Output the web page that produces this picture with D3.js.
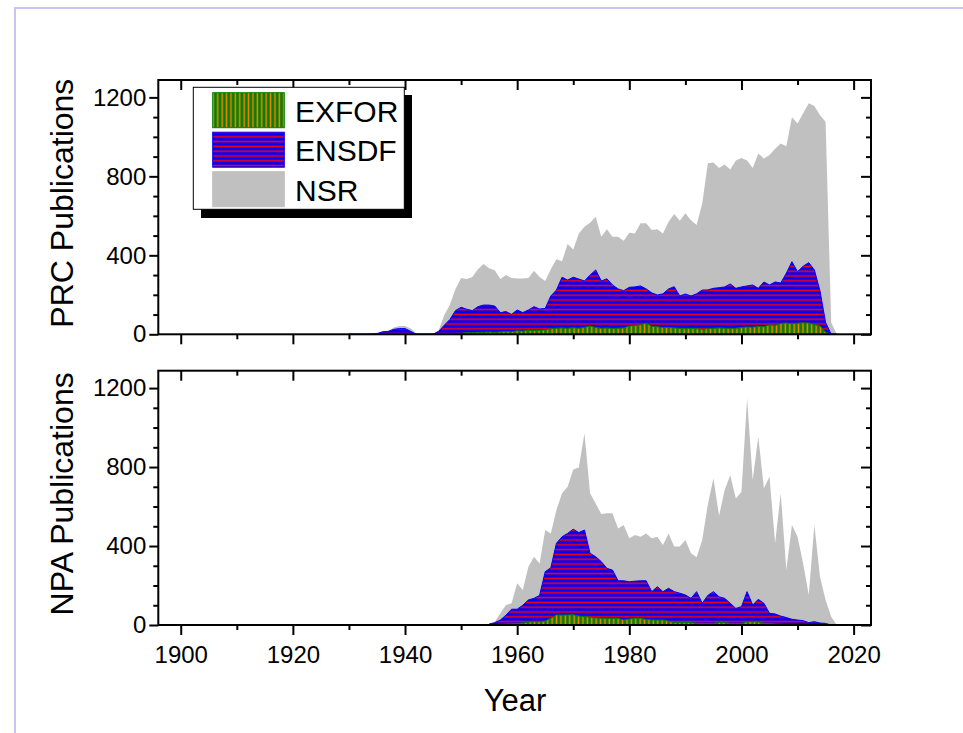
<!DOCTYPE html>
<html>
<head>
<meta charset="utf-8">
<script src="https://cdn.jsdelivr.net/npm/d3@7"></script>
<style>
  html, body { margin: 0; padding: 0; background: #fff; }
  svg { display: block; font-family: "Liberation Sans", Arial, sans-serif; }
</style>
</head>
<body>
<svg id="chart" width="963" height="733"></svg>
<script>
// yearly publication counts
const prcStart = 1930;
const prcNSR = [
  0, 0, 0, 0, 3, 8, 13, 15, 35, 42,
  42, 30, 5, 0, 0, 3, 20, 98, 150, 230,
  285, 280, 290, 330, 356, 335, 325, 280, 300, 285,
  282, 282, 285, 322, 290, 270, 330, 380, 370, 457,
  430, 511, 545, 565, 596, 494, 532, 494, 494, 474,
  514, 510, 562, 562, 528, 532, 510, 570, 609, 575,
  613, 578, 553, 663, 866, 870, 842, 860, 835, 880,
  893, 880, 842, 916, 891, 908, 940, 967, 953, 1099,
  1068, 1119, 1170, 1156, 1110, 1077, 60, 0
];
const prcENSDF = [
  0, 0, 0, 0, 0, 3, 13, 15, 25, 29,
  29, 15, 0, 0, 0, 0, 15, 46, 75, 120,
  137, 127, 120, 140, 148, 148, 143, 110, 115, 101,
  123, 110, 123, 140, 128, 131, 194, 224, 289, 275,
  289, 280, 270, 300, 326, 270, 281, 250, 230, 221,
  238, 240, 245, 230, 210, 199, 205, 230, 241, 194,
  204, 194, 205, 224, 225, 233, 236, 240, 255, 233,
  240, 245, 250, 233, 265, 250, 265, 260, 309, 368,
  317, 345, 363, 326, 220, 60, 0, 0
];
const prcEXFOR = [
  0, 0, 0, 0, 0, 0, 0, 0, 0, 0,
  0, 0, 0, 0, 0, 0, 0, 2, 3, 5,
  5, 8, 8, 10, 10, 12, 10, 12, 14, 12,
  18, 16, 20, 18, 20, 22, 28, 30, 32, 30,
  33, 30, 35, 42, 35, 30, 32, 28, 30, 32,
  42, 44, 48, 56, 40, 38, 35, 35, 32, 30,
  28, 30, 28, 25, 28, 30, 32, 30, 28, 30,
  34, 37, 36, 40, 38, 48, 45, 55, 57, 54,
  56, 58, 57, 50, 42, 10, 0, 0
];

const npaStart = 1955;
const npaNSR = [
  0, 15, 60, 101, 110, 211, 177, 295, 346, 312,
  481, 464, 582, 667, 700, 788, 798, 971, 667, 616,
  562, 566, 566, 489, 506, 439, 456, 447, 464, 439,
  447, 405, 464, 397, 397, 430, 363, 343, 430, 610,
  743, 553, 684, 759, 641, 675, 1148, 734, 953, 692,
  751, 414, 667, 278, 506, 447, 312, 152, 506, 245,
  127, 42, 0
];
const npaENSDF = [
  5, 12, 25, 50, 80, 80, 100, 127, 135, 150,
  270, 290, 414, 447, 464, 485, 468, 481, 363, 346,
  321, 287, 278, 224, 224, 219, 222, 224, 224, 169,
  194, 169, 186, 169, 161, 152, 135, 169, 110, 150,
  169, 143, 135, 110, 84, 93, 169, 101, 130, 110,
  59, 56, 45, 38, 29, 25, 22, 12, 17, 10,
  8, 0, 0
];
const npaEXFOR = [
  0, 2, 4, 5, 6, 8, 10, 15, 17, 17,
  20, 34, 51, 50, 51, 52, 45, 42, 40, 36,
  34, 34, 32, 34, 25, 30, 34, 34, 28, 25,
  25, 25, 20, 12, 12, 12, 12, 8, 7, 7,
  8, 12, 12, 8, 6, 8, 17, 17, 15, 8,
  8, 5, 4, 3, 3, 3, 2, 2, 2, 1,
  0, 0, 0
];

const xMajor = [1900, 1920, 1940, 1960, 1980, 2000, 2020];
const xMinor = [1910, 1930, 1950, 1970, 1990, 2010];
const yMajor = [0, 400, 800, 1200];
const yMinor = [100, 200, 300, 500, 600, 700, 900, 1000, 1100];
const seriesNames = ['EXFOR', 'ENSDF', 'NSR'];

const svg = d3.select('#chart');
const left = 158.3, right = 871;
const x = d3.scaleLinear().domain([1896, 2023.1]).range([left, right]);

// hatch fills
const defs = svg.append('defs');
const ensdf = defs.append('pattern').attr('id', 'ensdf')
  .attr('patternUnits', 'userSpaceOnUse').attr('width', 8).attr('height', 4.8);
ensdf.append('rect').attr('width', 8).attr('height', 4.8).attr('fill', '#0000ff');
ensdf.append('rect').attr('y', 1.6).attr('width', 8).attr('height', 1.6).attr('fill', '#ff0000');
const exfor = defs.append('pattern').attr('id', 'exfor')
  .attr('patternUnits', 'userSpaceOnUse').attr('width', 4.4).attr('height', 8);
exfor.append('rect').attr('width', 4.4).attr('height', 8).attr('fill', '#008000');
exfor.append('rect').attr('x', 1.4).attr('width', 1.5).attr('height', 8).attr('fill', '#ff8000');

const fills = { NSR: '#c0c0c0', ENSDF: 'url(#ensdf)', EXFOR: 'url(#exfor)' };
const strokes = { NSR: 'none', ENSDF: '#0000ff', EXFOR: '#008000' };

// page border
svg.append('path').attr('d', 'M15,733V8H963')
  .attr('fill', 'none').attr('stroke', '#cbc4f3').attr('stroke-width', 2);

const drawPanel = (top, bottom, start, series, title, showLabels) => {
  const y = d3.scaleLinear().domain([0, 1288]).range([bottom, top]);
  const g = svg.append('g');

  const area = d3.area()
    .x((d, i) => x(start + i))
    .y0(y(0))
    .y1(d => y(d));

  ['NSR', 'ENSDF', 'EXFOR'].forEach(name => {
    g.append('path')
      .datum(series[name])
      .attr('d', area)
      .attr('fill', fills[name])
      .attr('stroke', strokes[name])
      .attr('stroke-width', 1);
  });

  const styleAxis = sel => {
    sel.select('.domain').remove();
    sel.selectAll('line').attr('stroke', '#000').attr('stroke-width', 2);
    sel.selectAll('text').attr('fill', '#000').attr('font-size', 24)
      .attr('font-family', '"Liberation Sans", Arial, sans-serif');
  };

  // bottom: outward ticks
  g.append('g').attr('transform', `translate(0,${bottom})`)
    .call(d3.axisBottom(x).tickValues(xMajor).tickSize(10).tickPadding(11)
      .tickFormat(showLabels ? d3.format('d') : () => ''))
    .call(styleAxis);
  g.append('g').attr('transform', `translate(0,${bottom})`)
    .call(d3.axisBottom(x).tickValues(xMinor).tickSize(5).tickFormat(() => ''))
    .call(styleAxis);
  // top: inward ticks
  g.append('g').attr('transform', `translate(0,${top})`)
    .call(d3.axisTop(x).tickValues(xMajor).tickSize(-10).tickFormat(() => ''))
    .call(styleAxis);
  g.append('g').attr('transform', `translate(0,${top})`)
    .call(d3.axisTop(x).tickValues(xMinor).tickSize(-5).tickFormat(() => ''))
    .call(styleAxis);
  // left: outward ticks
  g.append('g').attr('transform', `translate(${left},0)`)
    .call(d3.axisLeft(y).tickValues(yMajor).tickSize(9).tickPadding(3).tickFormat(d3.format('d')))
    .call(styleAxis);
  g.append('g').attr('transform', `translate(${left},0)`)
    .call(d3.axisLeft(y).tickValues(yMinor).tickSize(5).tickFormat(() => ''))
    .call(styleAxis);
  // right: inward ticks
  g.append('g').attr('transform', `translate(${right},0)`)
    .call(d3.axisRight(y).tickValues(yMajor).tickSize(-10).tickFormat(() => ''))
    .call(styleAxis);
  g.append('g').attr('transform', `translate(${right},0)`)
    .call(d3.axisRight(y).tickValues(yMinor).tickSize(-5).tickFormat(() => ''))
    .call(styleAxis);

  g.append('rect')
    .attr('x', left).attr('y', top)
    .attr('width', right - left).attr('height', bottom - top)
    .attr('fill', 'none').attr('stroke', '#000').attr('stroke-width', 2);

  g.append('text')
    .attr('transform', `translate(73,${(top + bottom) / 2 - 4}) rotate(-90)`)
    .attr('text-anchor', 'middle')
    .attr('font-size', 32)
    .text(title);
};

drawPanel(80, 334.3, prcStart,
  { NSR: prcNSR, ENSDF: prcENSDF, EXFOR: prcEXFOR }, 'PRC Publications', false);
drawPanel(370.7, 625, npaStart,
  { NSR: npaNSR, ENSDF: npaENSDF, EXFOR: npaEXFOR }, 'NPA Publications', true);

svg.append('text')
  .attr('x', 515).attr('y', 711)
  .attr('text-anchor', 'middle')
  .attr('font-size', 31)
  .text('Year');

// legend with drop shadow
const legend = svg.append('g');
legend.append('rect').attr('x', 201).attr('y', 95).attr('width', 211).attr('height', 123).attr('fill', '#000');
legend.append('rect').attr('x', 193.3).attr('y', 87.3).attr('width', 211).attr('height', 122)
  .attr('fill', '#fff').attr('stroke', '#000').attr('stroke-width', 1);
seriesNames.forEach((name, i) => {
  const ry = 92.7 + i * 39.5;
  legend.append('rect').attr('x', 212.7).attr('y', ry).attr('width', 71.6).attr('height', 35)
    .attr('fill', fills[name])
    .attr('stroke', strokes[name] === 'none' ? '#c0c0c0' : strokes[name]).attr('stroke-width', 1);
  legend.append('text').attr('x', 295).attr('y', ry + 29).attr('font-size', 30).text(name);
});
</script>
</body>
</html>
